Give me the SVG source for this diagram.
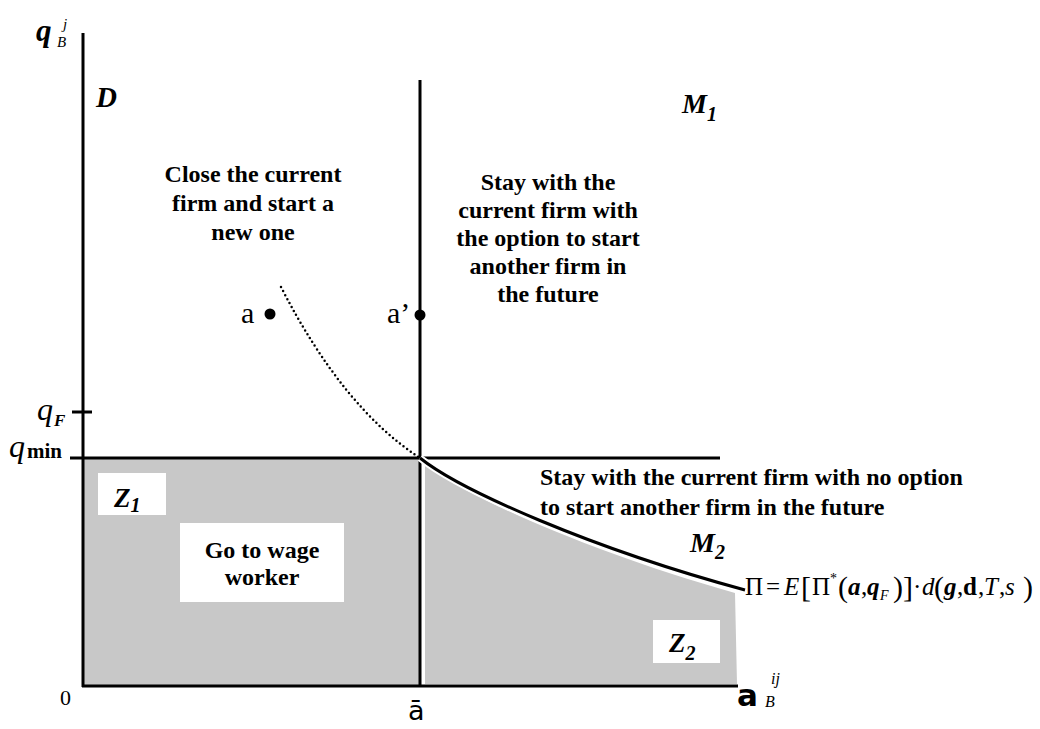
<svg xmlns="http://www.w3.org/2000/svg" width="1040" height="729" viewBox="0 0 1040 729">
<style>
.ln{stroke:#000;stroke-width:3;fill:none}
.lbl{font-family:"Liberation Serif",serif;font-weight:bold;font-size:24px;fill:#000}
.mi{font-family:"Liberation Serif",serif;font-style:italic;font-weight:bold;fill:#000}
.rm{font-family:"Liberation Serif",serif;fill:#000}
.it{font-style:italic}
.bi{font-style:italic;font-weight:bold}
.big{font-size:30px}
.box{fill:#fff}
.gray{fill:#c8c8c8}
</style>
<rect width="1040" height="729" fill="#fff"/>
<g id="regions">
<rect class="gray" x="83" y="458" width="337" height="228"/>
<path class="gray" d="M425,464 C462,495 592,553 735,593 L737,684 L425,684 Z"/>
</g>
<g id="connectors">
<line class="ln" x1="83" y1="33" x2="83" y2="687"/>
<line class="ln" x1="82" y1="686" x2="738" y2="686"/>
<line class="ln" x1="420" y1="80" x2="420" y2="686"/>
<line class="ln" x1="70" y1="458" x2="720" y2="458"/>
<line class="ln" x1="72" y1="412" x2="92" y2="412"/>
<path d="M420,458 C460,490 590,548 745,590" stroke="#fff" stroke-width="7" fill="none"/>
<path class="ln" d="M420,458 C460,490 590,548 745,590"/>
<path d="M281,287 Q343,408 420,458" stroke="#000" stroke-width="2.5" stroke-linecap="round" stroke-dasharray="0 4.5" fill="none"/>
</g>
<g id="points">
<circle cx="270" cy="314" r="5.5"/>
<circle cx="420" cy="315" r="5.5"/>
<text class="rm" x="241" y="323" font-size="30">a</text>
<text class="rm" x="387" y="323" font-size="30">a’</text>
</g>
<g id="axis-labels">
<text class="mi" x="36" y="41" font-size="31">q</text>
<text class="rm it" x="57" y="47" font-size="15">B</text>
<text class="rm it" x="63" y="29" font-size="15">j</text>
<text class="rm it" x="37" y="420" font-size="32">q</text>
<text class="mi" x="54" y="426" font-size="17">F</text>
<text class="rm it" x="9" y="457" font-size="32">q</text>
<text class="rm" x="27" y="458" font-size="21" font-weight="bold">min</text>
<text class="rm" x="60" y="705" font-size="22">0</text>
<text x="408" y="720" font-family="DejaVu Sans,sans-serif" font-size="27">ā</text>
<text x="737" y="706" font-family="DejaVu Sans,sans-serif" font-size="31" font-weight="bold">a</text>
<text class="rm it" x="771" y="684" font-size="16">ij</text>
<text class="rm it" x="765" y="707" font-size="16">B</text>
</g>
<g id="D"><text class="mi" x="96" y="107" font-size="29">D</text></g>
<g id="M1"><text class="mi" x="682" y="113" font-size="28">M<tspan font-size="20" dy="8">1</tspan></text></g>
<g id="M2"><text class="mi" x="690" y="552" font-size="28">M<tspan font-size="20" dy="7">2</tspan></text></g>
<g id="close">
<text class="lbl" text-anchor="middle"><tspan x="253" y="182">Close the current</tspan><tspan x="253" y="211">firm and start a</tspan><tspan x="253" y="240">new one</tspan></text>
</g>
<g id="stay-option">
<text class="lbl" text-anchor="middle"><tspan x="548" y="190">Stay with the</tspan><tspan x="548" y="218">current firm with</tspan><tspan x="548" y="246">the option to start</tspan><tspan x="548" y="274">another firm in</tspan><tspan x="548" y="302">the future</tspan></text>
</g>
<g id="stay-no-option">
<text class="lbl"><tspan x="540" y="485">Stay with the current firm with no option</tspan><tspan x="540" y="515">to start another firm in the future</tspan></text>
</g>
<g id="Z1">
<rect class="box" x="98" y="473" width="68" height="42"/>
<text class="mi" x="114" y="507" font-size="27">Z<tspan font-size="20" dy="5">1</tspan></text>
</g>
<g id="wage">
<rect class="box" x="180" y="523" width="164" height="79"/>
<text class="lbl" text-anchor="middle"><tspan x="262" y="558">Go to wage</tspan><tspan x="262" y="585">worker</tspan></text>
</g>
<g id="Z2">
<rect class="box" x="653" y="620" width="67" height="43"/>
<text class="mi" x="669" y="652" font-size="27">Z<tspan font-size="20" dy="8">2</tspan></text>
</g>
<g id="formula">
<text class="rm" y="595" font-size="25"><tspan x="745">Π</tspan><tspan x="766">=</tspan><tspan x="784" class="it">E</tspan><tspan x="801" class="big" dy="2">[</tspan><tspan x="812" dy="-2">Π</tspan><tspan x="830" font-size="14" dy="-12">*</tspan><tspan x="838" class="big" dy="14">(</tspan><tspan x="848" class="bi" dy="-2">a</tspan><tspan x="861">,</tspan><tspan x="867" class="bi">q</tspan><tspan x="880" font-size="14" class="it" dy="5">F</tspan><tspan x="893" class="big" dy="-3">)</tspan><tspan x="903" class="big">]</tspan><tspan x="913" dy="-2">·</tspan><tspan x="922" class="it">d</tspan><tspan x="934" class="big" dy="2">(</tspan><tspan x="944" class="bi" dy="-2">g</tspan><tspan x="957">,</tspan><tspan x="963" font-weight="bold">d</tspan><tspan x="978">,</tspan><tspan x="984" class="it">T</tspan><tspan x="999">,</tspan><tspan x="1005" class="it">s</tspan><tspan x="1023" class="big" dy="2">)</tspan></text>
</g>
</svg>
